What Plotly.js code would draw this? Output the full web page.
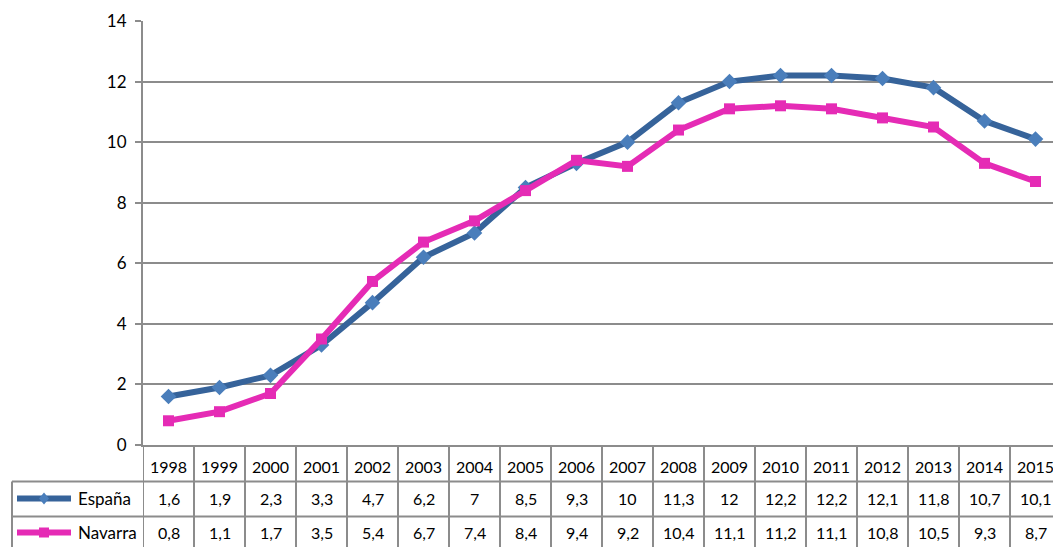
<!DOCTYPE html>
<html>
<head>
<meta charset="utf-8">
<script src="https://cdn.plot.ly/plotly-3.0.1.min.js"></script>
<style>
html,body{margin:0;padding:0;overflow:hidden;background:#fff;}
#chart{width:1061px;height:547px;}
</style>
</head>
<body>
<div id="chart"></div>
<script>
const years = ["1998","1999","2000","2001","2002","2003","2004","2005","2006","2007","2008","2009","2010","2011","2012","2013","2014","2015"];
const espana = [1.6,1.9,2.3,3.3,4.7,6.2,7,8.5,9.3,10,11.3,12,12.2,12.2,12.1,11.8,10.7,10.1];
const navarra = [0.8,1.1,1.7,3.5,5.4,6.7,7.4,8.4,9.4,9.2,10.4,11.1,11.2,11.1,10.8,10.5,9.3,8.7];
const seriesNames = ["España","Navarra"];

const colEsp = "#36639A", colEspM = "#4A7EBB";
const colNav = "#E52BB5", colNavM = "#E52BB5";
const gridC = "#8C8C8C";
const fontFam = "Lato, 'Open Sans', sans-serif";

const H = 547, T = 21, B = 102, plotH = H - T - B;
const py = y => (T + plotH - y) / plotH; // pixel y -> paper y
const W = 1061, L = 143, plotW = W - L;
const px = x => (x - L) / plotW;

const traces = [
  {x: years, y: espana, name: seriesNames[0], type: "scatter", mode: "lines+markers",
   line: {color: colEsp, width: 6}, marker: {symbol: "diamond", size: 12, color: colEspM}},
  {x: years, y: navarra, name: seriesNames[1], type: "scatter", mode: "lines+markers",
   line: {color: colNav, width: 6}, marker: {symbol: "square", size: 11, color: colNavM}}
];

const shapes = [];
const annotations = [];
const rowHeader = py(481.5), rowEsp = py(516.5), bottom = py(560);
shapes.push({type:"line", xref:"paper", yref:"paper", x0:0, x1:1.02, y0:rowHeader, y1:rowHeader, line:{color:gridC, width:2}});
shapes.push({type:"line", xref:"paper", yref:"paper", x0:px(12), x1:0, y0:rowHeader, y1:rowHeader, line:{color:gridC, width:2}});
shapes.push({type:"line", xref:"paper", yref:"paper", x0:px(12), x1:1.02, y0:rowEsp, y1:rowEsp, line:{color:gridC, width:2}});
shapes.push({type:"line", xref:"paper", yref:"paper", x0:px(12), x1:px(12), y0:rowHeader, y1:bottom, line:{color:gridC, width:2}});
for (let i = 0; i <= years.length; i++) {
  shapes.push({type:"line", xref:"x", yref:"paper", x0:i-0.5, x1:i-0.5, y0:0, y1:bottom, line:{color:gridC, width:2}});
}
const keyY = [py(498.5), py(532.5)];
const keyCols = [colEsp, colNav];
for (let k = 0; k < 2; k++) {
  shapes.push({type:"line", xref:"paper", yref:"paper", x0:px(17), x1:px(71), y0:keyY[k], y1:keyY[k], line:{color:keyCols[k], width:6}});
}
const cx = 44, cy = 498.5;
shapes.push({type:"path", xref:"paper", yref:"paper",
  path:`M ${px(cx)} ${py(cy-6)} L ${px(cx+5)} ${py(cy)} L ${px(cx)} ${py(cy+6)} L ${px(cx-5)} ${py(cy)} Z`,
  fillcolor: colEspM, line:{width:0}});
shapes.push({type:"rect", xref:"paper", yref:"paper", x0:px(39), x1:px(49), y0:py(537.5), y1:py(527.5),
  fillcolor: colNavM, line:{width:0}});

const tfont = {family: fontFam, size: 16, color: "#000"};
const fmt = v => String(v).replace(".", ",");
years.forEach((yr, i) => {
  annotations.push({x: i, xref:"x", y: py(466), yref:"paper", text: yr, showarrow:false, font: tfont, xanchor:"center", yanchor:"middle"});
  annotations.push({x: i, xref:"x", y: keyY[0], yref:"paper", text: fmt(espana[i]), showarrow:false, font: tfont, xanchor:"center", yanchor:"middle"});
  annotations.push({x: i, xref:"x", y: keyY[1], yref:"paper", text: fmt(navarra[i]), showarrow:false, font: tfont, xanchor:"center", yanchor:"middle"});
});
seriesNames.forEach((n, k) => {
  annotations.push({x: px(76), xref:"paper", y: keyY[k], yref:"paper", text: n, showarrow:false,
    font: {family: fontFam, size: 17, color: "#000"}, xanchor:"left", yanchor:"middle"});
});

const layout = {
  width: W, height: H,
  margin: {l: L, r: 0, t: T, b: B},
  paper_bgcolor: "#fff", plot_bgcolor: "#fff",
  showlegend: false,
  font: {family: fontFam, size: 16, color: "#000"},
  xaxis: {type: "category", range: [-0.5, years.length - 0.5], showticklabels: false,
    showgrid: false, zeroline: false, showline: true, linecolor: gridC, linewidth: 2, ticks: ""},
  yaxis: {range: [0, 14], dtick: 2, tick0: 0, showgrid: true, gridcolor: gridC, gridwidth: 2,
    zeroline: false, showline: true, linecolor: gridC, linewidth: 2,
    ticks: "outside", ticklen: 6, tickcolor: gridC, tickwidth: 2, ticklabelstandoff: 5,
    tickfont: {family: fontFam, size: 17, color: "#000"}},
  shapes: shapes,
  annotations: annotations
};

Plotly.newPlot("chart", traces, layout, {staticPlot: true, displayModeBar: false});
</script>
</body>
</html>
